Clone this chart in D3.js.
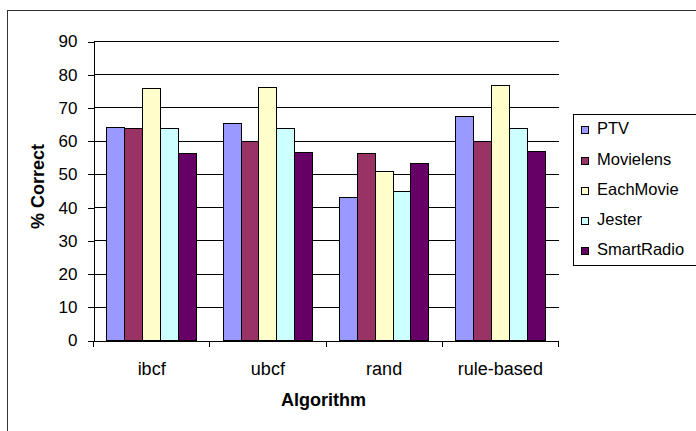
<!DOCTYPE html>
<html>
<head>
<meta charset="utf-8">
<script src="https://cdn.jsdelivr.net/npm/d3@7"></script>
<style>
  html, body { margin: 0; padding: 0; background: #fff; }
  #chart { width: 696px; height: 431px; overflow: hidden; }
  svg { display: block; font-family: "Liberation Sans", Arial, sans-serif; }
</style>
</head>
<body>
<div id="chart"></div>
<script>
// data
const categories = ["ibcf", "ubcf", "rand", "rule-based"];
const series = ["PTV", "Movielens", "EachMovie", "Jester", "SmartRadio"];
const ptv = [64.2, 65.3, 43.0, 67.5];
const movielens = [63.8, 60.0, 56.2, 60.0];
const eachMovie = [76.0, 76.3, 50.8, 76.7];
const jester = [63.8, 63.8, 44.8, 63.8];
const smartRadio = [56.2, 56.6, 53.2, 56.9];
const yTicks = [0, 10, 20, 30, 40, 50, 60, 70, 80, 90];

const values = [ptv, movielens, eachMovie, jester, smartRadio];
const colors = ["#9999ff", "#993366", "#ffffcc", "#ccffff", "#660066"];

const width = 696, height = 431;
const plot = { left: 93, right: 558, top: 41, bottom: 340 };

const svg = d3.select("#chart").append("svg")
  .attr("width", width)
  .attr("height", height);

// outer chart border (runs off the right and bottom edge)
svg.append("rect")
  .attr("x", 7.5).attr("y", 10.5)
  .attr("width", 720).attr("height", 450)
  .attr("fill", "#fff")
  .attr("stroke", "#333")
  .attr("stroke-width", 1);

// scales
const x = d3.scaleBand()
  .domain(categories)
  .range([plot.left, plot.right])
  .padding(0);

const xInner = d3.scaleBand()
  .domain(series)
  .range([0, x.bandwidth()])
  .paddingInner(0)
  .paddingOuter(0.75);

const y = d3.scaleLinear()
  .domain([0, 90])
  .range([plot.bottom, plot.top]);

const g = svg.append("g").attr("transform", "translate(0.5,0.5)");

// gridlines
g.append("g")
  .selectAll("line")
  .data(yTicks.filter((d) => d > 0))
  .join("line")
  .attr("x1", plot.left)
  .attr("x2", plot.right)
  .attr("y1", (d) => Math.round(y(d)))
  .attr("y2", (d) => Math.round(y(d)))
  .attr("stroke", "#000")
  .attr("shape-rendering", "crispEdges");

// bars
const table = [];
categories.forEach((c, i) => {
  series.forEach((s, j) => {
    table.push({ cat: c, ser: s, value: values[j][i], color: colors[j] });
  });
});

g.append("g")
  .selectAll("rect")
  .data(table)
  .join("rect")
  .attr("x", (d) => Math.round(x(d.cat) + xInner(d.ser)))
  .attr("y", (d) => Math.round(y(d.value)))
  .attr("width", (d) => Math.round(x(d.cat) + xInner(d.ser) + xInner.bandwidth()) - Math.round(x(d.cat) + xInner(d.ser)))
  .attr("height", (d) => Math.round(y(0)) - Math.round(y(d.value)))
  .attr("fill", (d) => d.color)
  .attr("stroke", "#000")
  .attr("stroke-width", 1)
  .attr("shape-rendering", "crispEdges");

// y axis
const yAxis = d3.axisLeft(y)
  .tickValues(yTicks)
  .tickSize(6)
  .tickPadding(10)
  .tickSizeOuter(0);

const yG = g.append("g")
  .attr("transform", `translate(${plot.left},0)`)
  .call(yAxis);
yG.selectAll("line, path").attr("stroke", "#000").attr("shape-rendering", "crispEdges");
yG.selectAll("text")
  .attr("font-size", 17)
  .attr("font-family", "'Liberation Sans', Arial, sans-serif")
  .attr("fill", "#000");

// x axis (labels centred, ticks on the category boundaries)
const xAxis = d3.axisBottom(x)
  .tickSize(0)
  .tickPadding(22)
  .tickSizeOuter(0);

const xG = g.append("g")
  .attr("transform", `translate(0,${plot.bottom})`)
  .call(xAxis);
xG.select("path").attr("stroke", "#000").attr("shape-rendering", "crispEdges");
xG.selectAll("text")
  .attr("font-size", 18)
  .attr("font-family", "'Liberation Sans', Arial, sans-serif")
  .attr("fill", "#000");

const bounds = categories.map((c) => x(c)).concat([x.range()[1]]);
xG.append("g")
  .selectAll("line")
  .data(bounds)
  .join("line")
  .attr("x1", (d) => Math.round(d))
  .attr("x2", (d) => Math.round(d))
  .attr("y1", 0)
  .attr("y2", 6)
  .attr("stroke", "#000")
  .attr("shape-rendering", "crispEdges");

// axis titles
svg.append("text")
  .attr("transform", `translate(44,186.5) rotate(-90)`)
  .attr("text-anchor", "middle")
  .attr("font-size", 18)
  .attr("font-weight", "bold")
  .text("% Correct");

svg.append("text")
  .attr("x", 323.5)
  .attr("y", 405.5)
  .attr("text-anchor", "middle")
  .attr("font-size", 18)
  .attr("font-weight", "bold")
  .text("Algorithm");

// legend
const legend = svg.append("g");
legend.append("rect")
  .attr("x", 573.5).attr("y", 114.5)
  .attr("width", 140).attr("height", 151)
  .attr("fill", "#fff")
  .attr("stroke", "#000");

const rowStep = 30.2;
const items = legend.selectAll("g.item")
  .data(series)
  .join("g")
  .attr("class", "item")
  .attr("transform", (d, i) => `translate(0,${134.3 + i * rowStep})`);

items.append("rect")
  .attr("x", 581.5)
  .attr("y", -7.5)
  .attr("width", 7)
  .attr("height", 7)
  .attr("fill", (d, i) => colors[i])
  .attr("stroke", "#000")
  .attr("shape-rendering", "crispEdges");

items.append("text")
  .attr("x", 597)
  .attr("y", 0)
  .attr("font-size", 16.5)
  .text((d) => d);
</script>
</body>
</html>
